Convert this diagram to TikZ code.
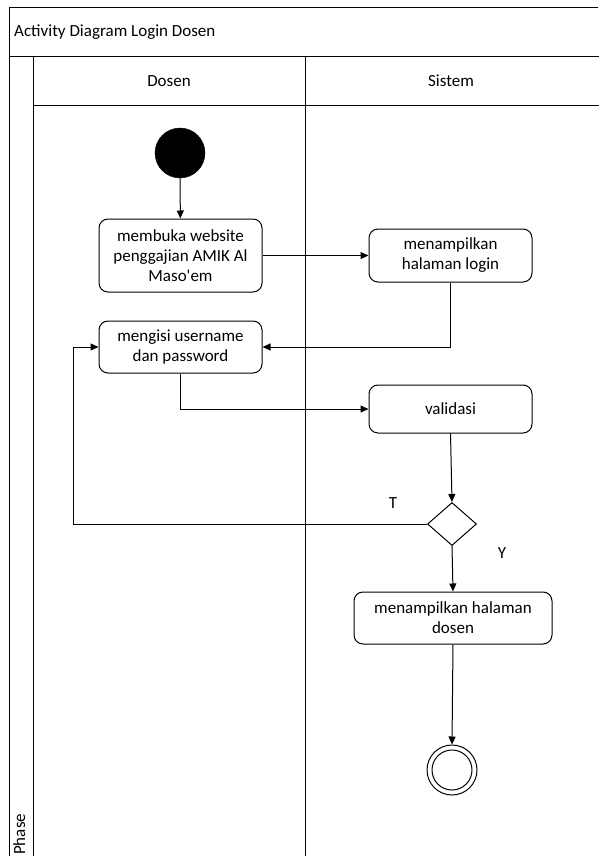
\documentclass[tikz,border=0pt]{standalone}
\usepackage{fontspec}
\setmainfont{Carlito}
\usetikzlibrary{arrows.meta,shapes.geometric}
\begin{document}
\begin{tikzpicture}[x=1pt,y=-1pt,
  frameline/.style={line width=1pt,draw=black},
  actbox/.style={draw,line width=1pt,rounded corners=9pt,align=center,inner sep=2pt,font=\fontsize{17}{20}\selectfont},
  lbl/.style={font=\fontsize{17}{20}\selectfont,inner sep=0pt},
  flow/.style={line width=1pt,-{Triangle[length=8pt,width=7pt]}},
  plain/.style={line width=1pt}]
\useasboundingbox (0,0) rectangle (598,856);
% frame
\draw[frameline] (598,8) -- (9,8) -- (9,857);
\draw[frameline] (9,57) -- (599,57);
\draw[frameline] (33,106) -- (599,106);
\draw[frameline] (33,57) -- (33,857);
\draw[frameline] (305,57) -- (305,857);
\node[lbl,anchor=west] (title) at (14,32) {Activity Diagram Login Dosen};
\node[lbl] (hdosen) at (169,81) {Dosen};
\node[lbl] (hsistem) at (451,81) {Sistem};
\node[lbl,rotate=90,anchor=base west] (phase) at (25,855) {Phase};
% nodes
\node[circle,fill=black,draw,minimum size=50pt,inner sep=0pt] (start) at (180,153) {};
\node[actbox,minimum width=163pt,minimum height=73pt] (a1) at (180.5,255.5) {membuka website\\penggajian AMIK Al\\Maso\textquotesingle em};
\node[actbox,minimum width=163pt,minimum height=53pt] (a2) at (450.5,255.5) {menampilkan\\halaman login};
\node[actbox,minimum width=163pt,minimum height=52pt] (a3) at (180.5,347) {mengisi username\\dan password};
\node[actbox,minimum width=163pt,minimum height=48pt] (a4) at (450.5,409) {validasi};
\node[diamond,draw,line width=1pt,minimum width=49pt,minimum height=43pt,inner sep=0pt] (dec) at (452,524) {};
\node[actbox,minimum width=198pt,minimum height=52pt] (a5) at (453,618) {menampilkan halaman\\dosen};
\node[circle,draw,line width=1pt,minimum size=50pt,inner sep=0pt] (end) at (452,770) {};
\node[circle,draw,line width=1pt,minimum size=40pt,inner sep=0pt] (endin) at (452,770) {};
\node[lbl] (tl) at (393,503) {T};
\node[lbl] (yl) at (502,553) {Y};
\coordinate (lp) at (73,524);
% edges
\draw[flow] (start) -- (a1);
\draw[flow] (a1.east) -- (a2.west);
\draw[flow] (a2.south) |- (a3.east);
\draw[flow] (a3.south) |- (a4.west);
\draw[flow] (a4.south) -- (dec.north);
\draw[plain] (dec.west) -- (lp);
\draw[flow] (lp) |- (a3.west);
\draw[flow] (dec.south) -- (a5.north);
\draw[flow] (a5.south) -- (end.north);
\end{tikzpicture}
\end{document}
